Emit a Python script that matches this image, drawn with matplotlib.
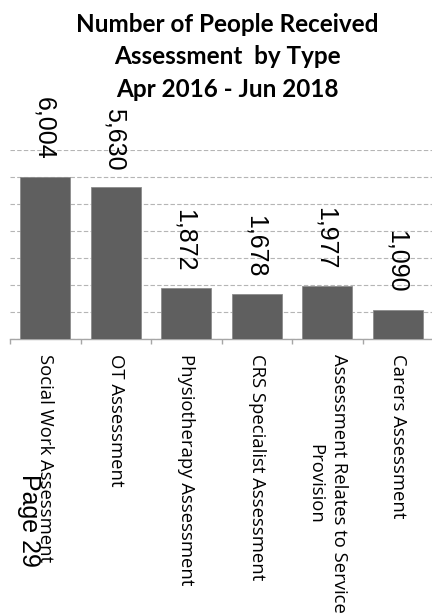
import matplotlib
matplotlib.use("Agg")
import matplotlib.pyplot as plt
import numpy as np

categories = ["Social Work Assessment", "OT Assessment", "Physiotherapy Assessment",
              "CRS Specialist Assessment", "Assessment Relates to Service\nProvision",
              "Carers Assessment"]
values = [6004, 5630, 1872, 1678, 1977, 1090]
title = "Number of People Received\nAssessment  by Type\nApr 2016 - Jun 2018"
page_text = "Page 29"

W, H = 432, 614
fig = plt.figure(figsize=(W / 100, H / 100), dpi=100)
ax = fig.add_axes([10 / W, 1 - 339 / H, 423 / W, (339 - 150) / H])

x = np.arange(len(categories))
bars = ax.bar(x, values, width=0.71, color="#5f5f5f", edgecolor="#8c8c8c",
              linewidth=0.6, zorder=3)

ax.set_xlim(-0.5, len(categories) - 0.5)
ax.set_ylim(0, 7000)
ax.set_yticks(np.arange(0, 7001, 1000))
ax.yaxis.grid(True, color="#b5b5b5", linestyle=(0, (4, 2)), linewidth=0.8, zorder=0)
ax.tick_params(axis="y", length=0, labelleft=False)
for s in ["top", "right", "left"]:
    ax.spines[s].set_visible(False)
ax.spines["bottom"].set_color("#a6a6a6")
ax.spines["bottom"].set_linewidth(1.0)

# boundary ticks (major), labels on minor ticks at centres
ax.set_xticks(np.arange(-0.5, len(categories), 1.0))
ax.set_xticklabels([])
ax.tick_params(axis="x", which="major", direction="out", length=3.5,
               color="#a6a6a6", width=1.0)
ax.set_xticks(x, minor=True)
ax.set_xticklabels(categories, minor=True, rotation=-90, ha="center", va="top",
                   fontsize=13.3, family=["Open Sans", "DejaVu Sans"], linespacing=1.4)
ax.tick_params(axis="x", which="minor", length=0, pad=11)

for xi, v in zip(x, values):
    ax.annotate(f"{v:,}", xy=(xi, v), xytext=(-1, 12), textcoords="offset points",
                rotation=-90, ha="center", va="bottom", fontsize=18,
                family=["Liberation Sans", "DejaVu Sans"], color="black")

fig.text(227 / W, 1 - 13 / H, title, ha="center", va="top", fontsize=17.5,
         fontweight="bold", family=["Lato", "DejaVu Sans"], linespacing=1.5)

fig.text(29 / W, 1 - 520 / H, page_text, rotation=-90, ha="center", va="center",
         fontsize=18, family=["Liberation Sans", "DejaVu Sans"], color="black")

fig.savefig("out.png", dpi=100)
